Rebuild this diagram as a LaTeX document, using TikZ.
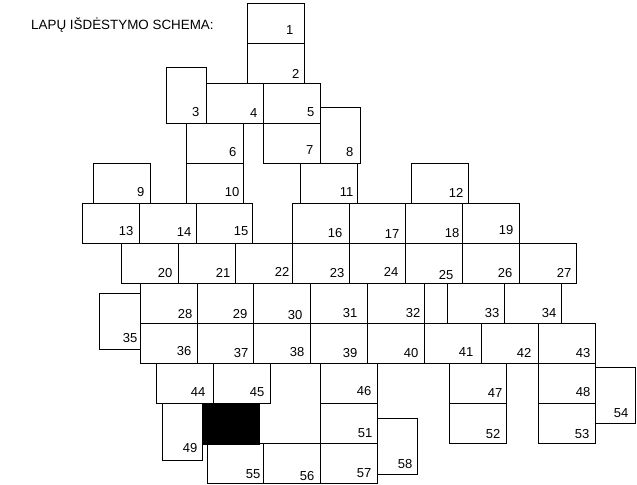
\documentclass[tikz,border=0pt]{standalone}
\usepackage{fontspec}
\setmainfont{Liberation Sans}
\begin{document}
\begin{tikzpicture}[x=1bp,y=-1bp,
  sheet/.style={draw=black,line width=0.75bp,inner sep=0pt,outer sep=0pt,rectangle},
  num/.style={anchor=base east,inner sep=0pt,font=\fontsize{13bp}{15bp}\selectfont},
  ttl/.style={anchor=base west,inner sep=0pt,font=\fontsize{13.4bp}{15bp}\selectfont}]
\useasboundingbox (0,0) rectangle (637,485);
\node[ttl] (title) at (31,29.5) {LAPŲ IŠDĖSTYMO SCHEMA:};
\foreach \n/\a/\b/\c/\d/\lx/\ly in {
  1/247/3/304/43/293.5/35,
  2/247/43/304/83/299.5/79,
  3/166/67/206/123/199.5/117,
  4/206/83/263/123/257.5/118,
  5/263/83/320/123/314.5/117,
  6/186/123/243/163/236.5/157,
  7/263/123/320/163/313.5/155,
  8/320/107/360/163/353.5/157,
  9/93/163/150/203/144.5/197,
  10/186/163/243/203/239.5/197,
  11/300/163/357/203/353.5/197,
  12/411/163/468/203/463.5/198,
  13/82/203/139/243/133.5/236,
  14/139/203/196/243/191.5/237,
  15/196/203/252/243/248.5/236,
  16/292/203/349/243/342.5/238,
  17/349/203/405/243/399.5/239,
  18/405/203/462/243/459.5/238,
  19/462/203/519/243/513.5/235,
  20/121/243/178/283/172.5/277,
  21/178/243/235/283/230.5/277,
  22/235/243/292/283/289.5/276,
  23/292/243/349/283/344.5/277,
  24/349/243/405/283/398.5/276,
  25/405/243/462/283/453.5/279,
  26/462/243/519/283/512.5/277,
  27/519/243/576/283/571.5/277,
  28/140/283/197/323/192.5/318,
  29/197/283/253/323/247.5/318,
  30/253/283/310/323/302.5/319,
  31/310/283/367/323/357.5/317.5,
  32/367/283/424/323/420.5/317,
  33/447/283/504/323/499.5/317,
  34/504/283/561/323/556.5/317,
  35/99/293/140/349/137.5/342,
  36/140/323/197/363/191.5/355,
  37/197/323/253/363/248.5/357,
  38/253/323/310/363/304.5/356,
  39/310/323/367/363/357.5/357,
  40/367/323/424/363/418.5/357,
  41/424/323/481/363/473.5/356,
  42/481/323/538/363/531.5/357,
  43/538/323/595/363/590.5/357,
  44/156/363/213/403/205.5/396,
  45/213/363/270/403/264.5/396,
  46/320/363/377/403/371.5/395,
  47/449/363/506/403/502.5/397,
  48/538/363/595/403/590.5/396,
  49/162/403/202/460/197.5/452,
  51/320/403/377/443/372.5/437,
  52/449/403/506/443/500.5/438,
  53/538/403/595/443/589.5/438,
  54/595/367/635/423/628.5/417,
  55/207/443/263/483/260.5/478,
  56/263/443/320/483/314.5/480,
  57/320/443/377/483/371.5/477,
  58/377/418/417/474/412.5/468}{
  \node[sheet,minimum width={(\c-\a)*1bp},minimum height={(\d-\b)*1bp}] (s\n) at ({(\a+\c)/2},{(\b+\d)/2}) {};
  \node[num] (l\n) at (\lx,\ly) {\n};
}
\node[sheet,fill=black,minimum width=57bp,minimum height=41bp] (s50) at (230.5,423.5) {};
\end{tikzpicture}
\end{document}
